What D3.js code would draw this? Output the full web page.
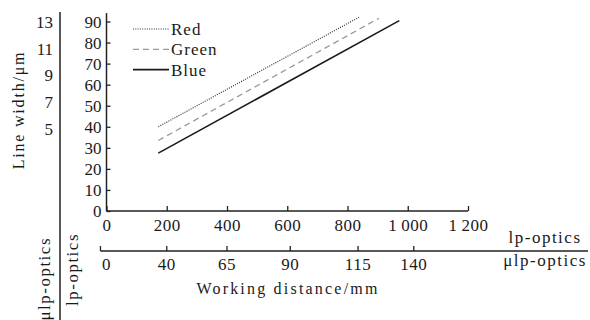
<!DOCTYPE html>
<html>
<head>
<meta charset="utf-8">
<script src="https://cdn.jsdelivr.net/npm/d3@7/dist/d3.min.js"></script>
<style>
	body { margin: 0; background: #fff; }
	svg text { font-family: "Liberation Serif", "Times New Roman", serif; fill: #1a1a1a; }
</style>
</head>
<body>
<svg id="chart" width="590" height="320"></svg>
<script>
// working distance, lp-optics (mm)
const lpTicks = [0, 200, 400, 600, 800, 1000, 1200]
const lpTickLabels = ['0', '200', '400', '600', '800', '1\u2009000', '1\u2009200']
// matching working distance for μlp-optics, placed on the lp-optics ruler
const muTickLabels = ['0', '40', '65', '90', '115', '140']
const muTickAt = [0, 200, 400, 610, 835, 1020]
// line width (μm), lp-optics
const widthTicks = [0, 10, 20, 30, 40, 50, 60, 70, 80, 90]
// line width (μm), μlp-optics
const muWidthTicks = [5, 7, 9, 11, 13]

const seriesNames = ['Red', 'Green', 'Blue']
const redDist = [172, 838]
const redWidth = [40, 92]
const greenDist = [172, 904]
const greenWidth = [33.5, 91.5]
const blueDist = [172, 972]
const blueWidth = [27.5, 90.4]

const svg = d3.select('#chart')

const x = d3.scaleLinear().domain([0, 1200]).range([106.5, 468])
const y = d3.scaleLinear().domain([0, 90]).range([211, 21.5])
const y2 = d3.scaleLinear().domain([5, 13]).range([129, 22])

const ink = '#222'
const fs = '17px'

// main y axis
const yAxis = svg.append('g').attr('transform', `translate(${x(0)},0)`)
	.call(d3.axisRight(y).tickValues(widthTicks).tickSize(4).tickFormat(''))
yAxis.select('.domain').remove()
yAxis.selectAll('line').attr('stroke', ink).attr('stroke-width', 1.3)
yAxis.selectAll('.tick').append('text')
	.attr('x', -5).attr('dy', '0.35em')
	.attr('text-anchor', 'end').style('font-size', fs)
	.text(d => d)
svg.append('line')
	.attr('x1', x(0)).attr('x2', x(0))
	.attr('y1', y(0)).attr('y2', y(94))
	.attr('stroke', ink).attr('stroke-width', 1.5)

// main x axis
const xAxis = svg.append('g').attr('transform', `translate(0,${y(0)})`)
	.call(d3.axisTop(x).tickValues(lpTicks).tickSize(5).tickFormat(''))
xAxis.select('.domain').remove()
xAxis.selectAll('line').attr('stroke', ink).attr('stroke-width', 1.3)
xAxis.selectAll('.tick').append('text')
	.attr('y', 20).attr('text-anchor', 'middle')
	.style('font-size', fs).style('letter-spacing', '0.5px')
	.text((d, i) => lpTickLabels[i])
svg.append('line')
	.attr('x1', x(0)).attr('x2', x(1200))
	.attr('y1', y(0)).attr('y2', y(0))
	.attr('stroke', ink).attr('stroke-width', 1.5)

// second ruler: μlp-optics distances
const rulerY = 251
const ruler = svg.append('g').attr('transform', `translate(0,${rulerY})`)
ruler.append('line')
	.attr('x1', x(-20)).attr('x2', 588)
	.attr('stroke', ink).attr('stroke-width', 1.5)
ruler.append('line')
	.attr('x1', x(-20)).attr('x2', x(-20))
	.attr('y1', 0).attr('y2', -5)
	.attr('stroke', ink).attr('stroke-width', 1.3)
const muTick = ruler.selectAll('.mu').data(muTickLabels).join('g')
	.attr('transform', (d, i) => `translate(${x(muTickAt[i])},0)`)
muTick.filter((d, i) => i > 0).append('line')
	.attr('y1', 0).attr('y2', -5)
	.attr('stroke', ink).attr('stroke-width', 1.3)
muTick.append('text')
	.attr('y', 19).attr('text-anchor', 'middle')
	.style('font-size', fs).style('letter-spacing', '0.5px')
	.text(d => d)

// left ruler: μlp-optics line width
svg.append('line')
	.attr('x1', 60).attr('x2', 60)
	.attr('y1', 12).attr('y2', 320)
	.attr('stroke', ink).attr('stroke-width', 1.5)
svg.append('g').selectAll('text').data(muWidthTicks).join('text')
	.attr('x', 53).attr('y', d => y2(d)).attr('dy', '0.35em')
	.attr('text-anchor', 'end').style('font-size', fs)
	.text(d => d)

// axis titles
svg.append('text')
	.attr('transform', 'translate(24,110) rotate(-90)')
	.attr('text-anchor', 'middle')
	.style('font-size', '16px').style('letter-spacing', '1.8px')
	.text('Line width/μm')
svg.append('text')
	.attr('x', 288).attr('y', 294).attr('text-anchor', 'middle')
	.style('font-size', '16px').style('letter-spacing', '2.2px')
	.text('Working distance/mm')
svg.append('text')
	.attr('x', 545).attr('y', 243).attr('text-anchor', 'middle')
	.style('font-size', fs).style('letter-spacing', '1.5px')
	.text('lp-optics')
svg.append('text')
	.attr('x', 545).attr('y', 266).attr('text-anchor', 'middle')
	.style('font-size', fs).style('letter-spacing', '1.5px')
	.text('μlp-optics')
svg.append('text')
	.attr('transform', 'translate(78,233) rotate(-90)')
	.attr('text-anchor', 'end')
	.style('font-size', fs).style('letter-spacing', '1.5px')
	.text('lp-optics')
svg.append('text')
	.attr('transform', 'translate(50,237) rotate(-90)')
	.attr('text-anchor', 'end')
	.style('font-size', fs).style('letter-spacing', '1.5px')
	.text('μlp-optics')

// lines
const series = [
	{ name: seriesNames[0], dist: redDist, width: redWidth, stroke: '#333', dash: '1,1.3', sw: 1.2 },
	{ name: seriesNames[1], dist: greenDist, width: greenWidth, stroke: '#999', dash: '6,4', sw: 1.3 },
	{ name: seriesNames[2], dist: blueDist, width: blueWidth, stroke: '#1a1a1a', dash: null, sw: 1.6 }
]

const lineGen = d3.line()
	.x(d => x(d[0]))
	.y(d => y(d[1]))

svg.append('g').selectAll('path').data(series).join('path')
	.attr('d', s => lineGen(s.dist.map((d, i) => [d, s.width[i]])))
	.attr('fill', 'none')
	.attr('stroke', s => s.stroke)
	.attr('stroke-width', s => s.sw)
	.attr('stroke-dasharray', s => s.dash)

// legend
const legend = svg.append('g').selectAll('g').data(series).join('g')
	.attr('transform', (d, i) => `translate(133,${29 + i * 20.3})`)
legend.append('line')
	.attr('x1', 0).attr('x2', 36)
	.attr('stroke', s => s.stroke)
	.attr('stroke-width', s => s.sw)
	.attr('stroke-dasharray', s => s.dash)
legend.append('text')
	.attr('x', 38).attr('dy', '0.35em')
	.style('font-size', fs).style('letter-spacing', '1px')
	.text(s => s.name)
</script>
</body>
</html>
